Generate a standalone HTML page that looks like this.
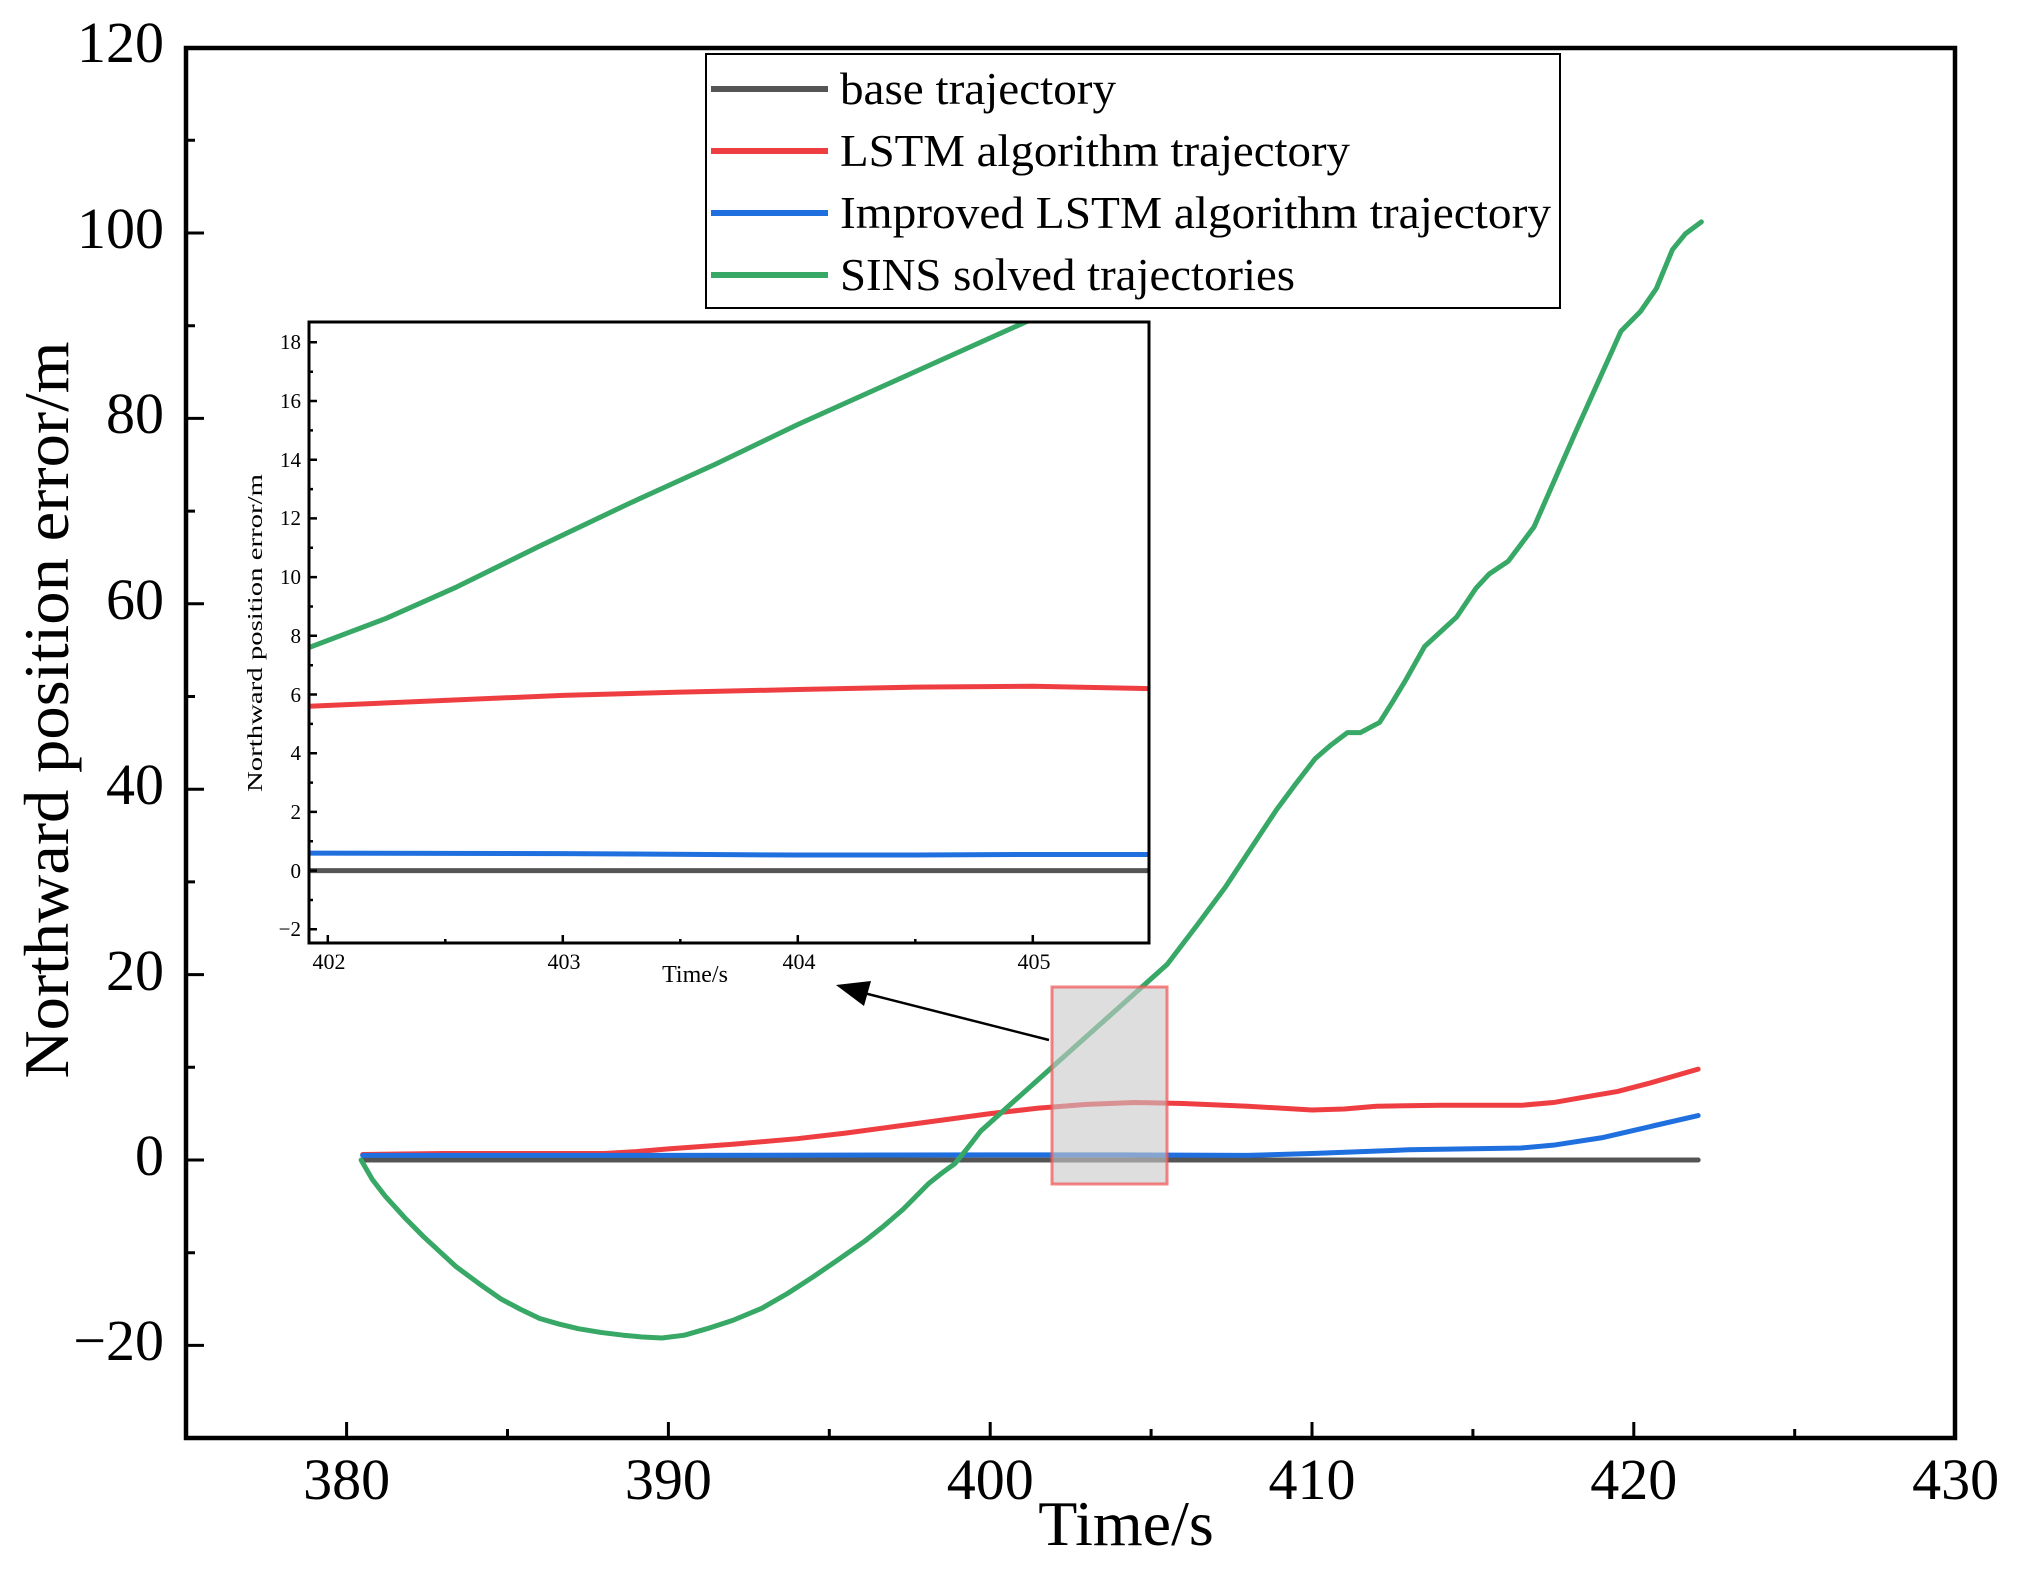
<!DOCTYPE html>
<html><head><meta charset="utf-8"><style>html,body{margin:0;padding:0;background:#fff}svg{display:block}text{font-family:"Liberation Serif",serif;fill:#000}</style></head><body>
<svg width="2018" height="1571" viewBox="0 0 2018 1571" xmlns="http://www.w3.org/2000/svg">
<defs>
<clipPath id="cm"><rect x="186" y="48" width="1769" height="1390"/></clipPath>
<clipPath id="ci"><rect x="309" y="322" width="840" height="621"/></clipPath>
</defs>
<g clip-path="url(#cm)" fill="none" stroke-linejoin="round" stroke-linecap="round">
<g transform="matrix(32.18,0,0,-9.27,-11881.8,1160)">
<polyline vector-effect="non-scaling-stroke" stroke="#555" stroke-width="5" points="380.5,0 422,0"/>
<polyline vector-effect="non-scaling-stroke" stroke="#ef3e42" stroke-width="5" points="380.5,0.6 383,0.7 388,0.7 389,0.9 390,1.2 392,1.7 394,2.3 395.5,2.9 397,3.6 398.5,4.3 400,5.0 401.5,5.6 403,6.0 404.5,6.2 406,6.1 408,5.8 410,5.4 411,5.5 412,5.8 414,5.9 416.5,5.9 417.5,6.2 418.5,6.8 419.5,7.4 420.5,8.3 422,9.8"/>
<polyline vector-effect="non-scaling-stroke" stroke="#1f6fdf" stroke-width="5" points="380.5,0.5 390,0.5 400,0.55 404,0.55 408,0.5 410,0.7 413,1.1 416.5,1.3 417.5,1.6 419,2.4 420.5,3.6 422,4.8"/>
<polyline vector-effect="non-scaling-stroke" stroke="#37a866" stroke-width="5" points="380.45,0 380.8,-2.1 381.2,-3.9 381.8,-6.2 382.4,-8.3 383.4,-11.5 384.1,-13.3 384.8,-15 385.4,-16.1 386,-17.1 386.6,-17.7 387.2,-18.2 387.9,-18.6 388.6,-18.9 389.2,-19.1 389.8,-19.2 390.5,-18.9 391.2,-18.2 392,-17.3 392.9,-16 393.7,-14.4 394.5,-12.6 395.3,-10.7 396.1,-8.75 396.7,-7.1 397.3,-5.3 397.7,-3.9 398.1,-2.5 398.5,-1.4 398.9,-0.4 399.3,1.3 399.7,3.1 400.5,5.6 401.5,8.7 402.5,11.8 403.5,14.9 404.5,18.0 405.5,21.1 406.4,25.2 407.3,29.4 408.1,33.6 408.9,37.8 409.5,40.6 410.1,43.3 410.6,44.8 411.1,46.1 411.5,46.1 412.1,47.2 412.5,49.4 412.9,51.7 413.5,55.4 414,57 414.5,58.6 415.1,61.7 415.5,63.2 416.1,64.6 416.9,68.3 418.2,78.6 419.6,89.4 420.2,91.5 420.7,94 421.2,98.2 421.6,99.9 422.1,101.2"/>
</g>
</g>
<rect x="1052" y="987" width="115" height="197" fill="rgba(200,200,200,0.6)" stroke="rgba(240,90,90,0.75)" stroke-width="3"/>
<line x1="1049" y1="1040" x2="860" y2="992" stroke="#000" stroke-width="2.5"/>
<polygon points="836,985 871,981 864,1006" fill="#000"/>
<rect x="186" y="48" width="1769" height="1390" fill="none" stroke="#000" stroke-width="4.5"/>
<g stroke="#000" stroke-width="3">
<path d="M186 233h18M186 418.4h18M186 603.8h18M186 789.2h18M186 974.6h18M186 1160h18M186 1345.4h18"/>
<path d="M186 140.3h9M186 325.7h9M186 511.1h9M186 696.5h9M186 881.9h9M186 1067.3h9M186 1252.7h9"/>
<path d="M346.6 1438v-16M668.4 1438v-16M990.2 1438v-16M1312 1438v-16M1633.8 1438v-16"/>
<path d="M507.5 1438v-9M829.3 1438v-9M1151.1 1438v-9M1472.9 1438v-9M1794.7 1438v-9"/>
</g>
<g font-size="58" text-anchor="end">
<text x="164" y="62">120</text><text x="164" y="248">100</text><text x="164" y="433">80</text><text x="164" y="619">60</text><text x="164" y="804">40</text><text x="164" y="990">20</text><text x="164" y="1175">0</text><text x="164" y="1360">−20</text>
</g>
<g font-size="58" text-anchor="middle">
<text x="346.6" y="1499">380</text><text x="668.4" y="1499">390</text><text x="990.2" y="1499">400</text><text x="1312" y="1499">410</text><text x="1633.8" y="1499">420</text><text x="1955.6" y="1499">430</text>
</g>
<text x="1126" y="1545" font-size="64" text-anchor="middle">Time/s</text>
<text transform="translate(68,710) rotate(-90)" font-size="64" text-anchor="middle" textLength="737" lengthAdjust="spacingAndGlyphs">Northward position error/m</text>
<rect x="706" y="54" width="854" height="254" fill="#fff" stroke="#000" stroke-width="2"/>
<g stroke-width="6">
<line x1="711" y1="89" x2="828" y2="89" stroke="#555"/>
<line x1="711" y1="151" x2="828" y2="151" stroke="#ef3e42"/>
<line x1="711" y1="213" x2="828" y2="213" stroke="#1f6fdf"/>
<line x1="711" y1="275" x2="828" y2="275" stroke="#37a866"/>
</g>
<g font-size="46">
<text x="840" y="104" textLength="276" lengthAdjust="spacingAndGlyphs">base trajectory</text>
<text x="840" y="166" textLength="510" lengthAdjust="spacingAndGlyphs">LSTM algorithm trajectory</text>
<text x="840" y="228" textLength="711" lengthAdjust="spacingAndGlyphs">Improved LSTM algorithm trajectory</text>
<text x="840" y="290" textLength="455" lengthAdjust="spacingAndGlyphs">SINS solved trajectories</text>
</g>
<rect x="309" y="322" width="840" height="621" fill="#fff"/>
<g clip-path="url(#ci)" fill="none" stroke-linejoin="round">
<g transform="matrix(235,0,0,-29.35,-94142.2,870.6)">
<polyline vector-effect="non-scaling-stroke" stroke="#555" stroke-width="5" points="401.5,0 406,0"/>
<polyline vector-effect="non-scaling-stroke" stroke="#1f6fdf" stroke-width="5" points="401.5,0.6 403,0.58 404,0.53 404.5,0.53 405,0.55 406,0.55"/>
<polyline vector-effect="non-scaling-stroke" stroke="#ef3e42" stroke-width="5" points="401.5,5.55 401.92,5.6 402.5,5.8 403,5.97 403.5,6.08 404,6.17 404.5,6.25 405,6.28 405.5,6.2 406,6.15"/>
<polyline vector-effect="non-scaling-stroke" stroke="#37a866" stroke-width="5" points="401.5,6.3 401.92,7.6 402.25,8.6 402.55,9.67 402.9,11.05 403.28,12.5 403.65,13.85 404,15.2 404.5,17 405,18.8 405.2,19.6"/>
</g>
</g>
<rect x="309" y="322" width="840" height="621" fill="none" stroke="#000" stroke-width="3"/>
<g stroke="#000" stroke-width="2.5">
<path d="M309 929.3h8M309 870.6h8M309 811.9h8M309 753.2h8M309 694.5h8M309 635.8h8M309 577.1h8M309 518.4h8M309 459.7h8M309 401h8M309 342.3h8"/>
<path d="M309 900h4M309 841.3h4M309 782.6h4M309 723.9h4M309 665.2h4M309 606.5h4M309 547.8h4M309 489.1h4M309 430.4h4M309 371.7h4"/>
<path d="M327.8 943v-8M562.8 943v-8M797.8 943v-8M1032.8 943v-8"/>
<path d="M445.3 943v-4M680.3 943v-4M915.3 943v-4"/>
</g>
<g font-size="21" text-anchor="end">
<text x="301" y="349">18</text><text x="301" y="408">16</text><text x="301" y="467">14</text><text x="301" y="525">12</text><text x="301" y="584">10</text><text x="301" y="643">8</text><text x="301" y="702">6</text><text x="301" y="760">4</text><text x="301" y="819">2</text><text x="301" y="878">0</text><text x="301" y="936">−2</text>
</g>
<g font-size="22" text-anchor="middle">
<text x="329" y="969">402</text><text x="564" y="969">403</text><text x="799" y="969">404</text><text x="1034" y="969">405</text>
</g>
<text x="695" y="982" font-size="24" text-anchor="middle">Time/s</text>
<text transform="translate(262,633) rotate(-90)" font-size="21" text-anchor="middle" textLength="318" lengthAdjust="spacingAndGlyphs">Northward position error/m</text>
</svg>
</body></html>
